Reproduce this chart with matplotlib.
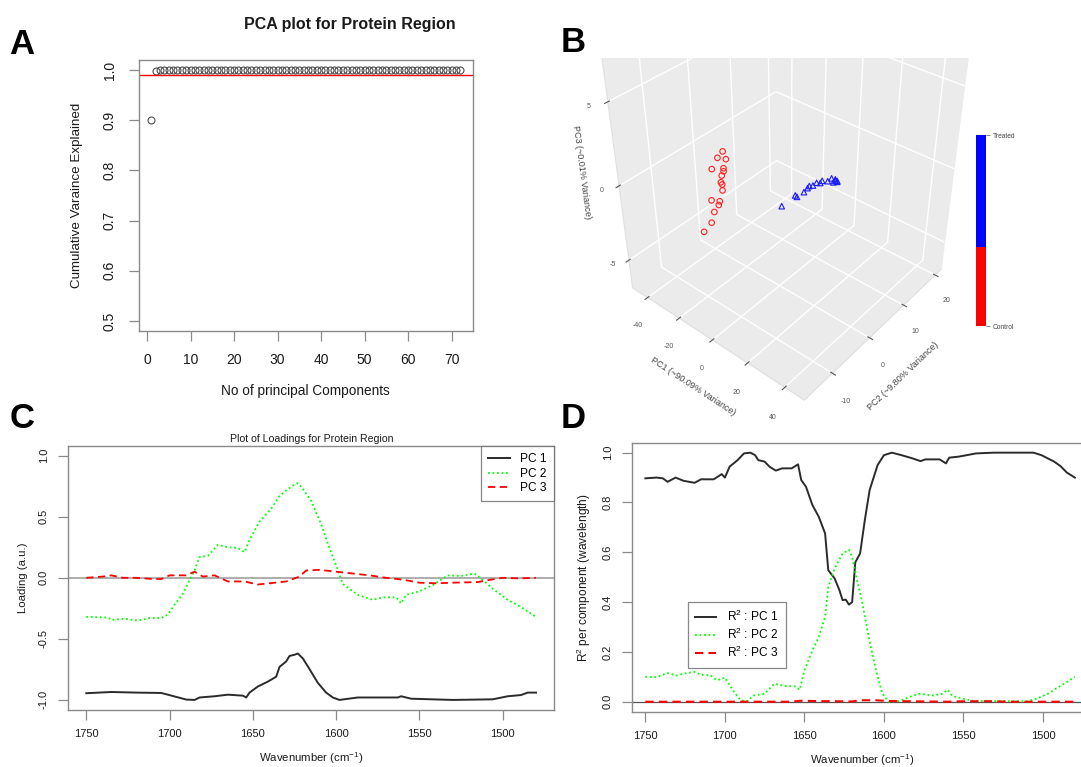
import matplotlib
matplotlib.use("Agg")
import matplotlib.pyplot as plt
from matplotlib.patches import Rectangle

plt.rcParams['font.family'] = ['Liberation Sans', 'DejaVu Sans']
plt.rcParams['mathtext.fontset'] = 'custom'
plt.rcParams['mathtext.rm'] = 'Liberation Sans'
plt.rcParams['mathtext.it'] = 'Liberation Sans:italic'
plt.rcParams['axes.unicode_minus'] = False

# ---- panel A: cumulative variance ----
n_pc = [1, 2, 3, 4, 5, 6, 7, 8, 9, 10, 11, 12, 13, 14, 15, 16, 17, 18,
        19, 20, 21, 22, 23, 24, 25, 26, 27, 28, 29, 30, 31, 32, 33, 34, 35, 36,
        37, 38, 39, 40, 41, 42, 43, 44, 45, 46, 47, 48, 49, 50, 51, 52, 53, 54,
        55, 56, 57, 58, 59, 60, 61, 62, 63, 64, 65, 66, 67, 68, 69, 70, 71, 72]
cum_var = [0.901, 0.999, 1.0, 1.0, 1.0, 1.0, 1.0, 1.0, 1.0, 1.0, 1.0, 1.0, 1.0, 1.0, 1.0, 1.0, 1.0, 1.0,
           1.0, 1.0, 1.0, 1.0, 1.0, 1.0, 1.0, 1.0, 1.0, 1.0, 1.0, 1.0, 1.0, 1.0, 1.0, 1.0, 1.0, 1.0,
           1.0, 1.0, 1.0, 1.0, 1.0, 1.0, 1.0, 1.0, 1.0, 1.0, 1.0, 1.0, 1.0, 1.0, 1.0, 1.0, 1.0, 1.0,
           1.0, 1.0, 1.0, 1.0, 1.0, 1.0, 1.0, 1.0, 1.0, 1.0, 1.0, 1.0, 1.0, 1.0, 1.0, 1.0, 1.0, 1.0]
cutoff = 0.99

# ---- panel B: scores (PC1, PC2, PC3) ----
ctrl_pc1 = [-32, -32, -31, -33, -32, -32, -32, -32, -32, -32, -33, -32, -32, -33, -33, -34]
ctrl_pc2 = [0.0, -1.3, 0.3, -2.4, 0.0, 0.0, -0.5, -0.8, -0.5, -0.5, -2.9, -1.3, -1.6, -2.4, -3.2, -4.8]
ctrl_pc3 = [0.3, 0.1, -0.2, -0.5, -0.8, -1.0, -1.2, -1.6, -1.8, -2.2, -2.5, -2.8, -3.0, -3.4, -4.0, -4.4]
trt_pc1 = [-16, -8, -7, -3, -1, 0, 2, 4, 6, 7, 10, 12, 13, 14, 15, 15, 14]
trt_pc2 = [8, 8, 8, 8, 8, 8, 8, 8, 8, 8, 8, 8, 8, 8, 8, 8, 8]
trt_pc3 = [-3.9, -2.66, -2.7, -2.14, -1.75, -1.55, -1.4, -1.1, -1.0, -0.8, -0.65, -0.35, -0.55, -0.4,
           -0.35, -0.4, -0.3]
key_labels = ['Control', 'Treated']
key_share = [0.415, 0.585]

# ---- panel C: loadings ----
wn_c1 = [1750, 1735, 1720, 1705, 1701, 1690, 1685, 1682, 1673, 1665, 1656, 1654, 1652, 1647,
         1641, 1636, 1634, 1630, 1628, 1625, 1623, 1620, 1617, 1615, 1611, 1606, 1602, 1598,
         1587, 1563, 1561, 1555, 1530, 1506, 1497, 1489, 1485, 1480]
pc1_load = [-0.945, -0.935, -0.94, -0.943, -0.957, -0.997, -1.0, -0.98, -0.97, -0.957, -0.965, -0.98,
            -0.94, -0.89, -0.85, -0.81, -0.73, -0.685, -0.64, -0.63, -0.62, -0.66, -0.725, -0.77,
            -0.86, -0.94, -0.98, -1.0, -0.98, -0.98, -0.97, -0.99, -1.0, -0.995, -0.97, -0.96, -0.94, -0.94]
wn_c2 = [1750, 1737, 1735, 1727, 1719, 1712, 1705, 1701, 1697, 1692, 1688, 1685, 1682, 1677,
         1671, 1665, 1659, 1655, 1652, 1646, 1639, 1634, 1630, 1626, 1623, 1620, 1615, 1609,
         1605, 1600, 1596, 1587, 1578, 1572, 1564, 1561, 1558, 1550, 1542, 1533, 1525, 1517,
         1513, 1506, 1497, 1489, 1480]
pc2_load = [-0.32, -0.325, -0.345, -0.335, -0.35, -0.33, -0.33, -0.30, -0.22, -0.13, -0.02, 0.06,
            0.17, 0.18, 0.27, 0.25, 0.245, 0.21, 0.31, 0.46, 0.565, 0.67, 0.715, 0.755, 0.775,
            0.73, 0.63, 0.44, 0.28, 0.10, -0.05, -0.14, -0.18, -0.16, -0.16, -0.21, -0.14, -0.11,
            -0.06, 0.02, 0.015, 0.035, -0.005, -0.09, -0.18, -0.24, -0.32]
wn_c3 = [1750, 1740, 1735, 1728, 1720, 1710, 1705, 1700, 1690, 1685, 1680, 1673, 1665, 1655,
         1647, 1640, 1630, 1622, 1618, 1610, 1600, 1590, 1580, 1570, 1560, 1550, 1540, 1530,
         1515, 1507, 1500, 1490, 1480]
pc3_load = [0.0, 0.01, 0.02, 0.0, 0.0, -0.01, -0.01, 0.02, 0.02, 0.05, 0.01, 0.02, -0.03, -0.03,
            -0.055, -0.045, -0.03, 0.01, 0.06, 0.065, 0.05, 0.035, 0.02, 0.0, -0.015, -0.04,
            -0.045, -0.04, -0.035, -0.015, 0.0, -0.005, 0.0]

# ---- panel D: R^2 per component ----
wn_d1 = [1750, 1743, 1739, 1736, 1731, 1726, 1719, 1715, 1707, 1702, 1700, 1697, 1692, 1688,
         1684, 1681, 1679, 1675, 1672, 1668, 1664, 1658, 1654, 1652, 1649, 1645, 1641, 1637,
         1635, 1631, 1628, 1626, 1624, 1622, 1620, 1618, 1615, 1612, 1609, 1604, 1600, 1595,
         1589, 1582, 1577, 1574, 1565, 1561, 1559, 1553, 1542, 1531, 1506, 1501, 1493, 1489,
         1485, 1480]
r2_pc1 = [0.897, 0.90, 0.897, 0.883, 0.90, 0.887, 0.879, 0.893, 0.893, 0.914, 0.90, 0.944, 0.97,
          0.997, 1.0, 0.99, 0.97, 0.964, 0.944, 0.928, 0.937, 0.937, 0.953, 0.89, 0.863, 0.79,
          0.743, 0.676, 0.528, 0.495, 0.448, 0.408, 0.41, 0.39, 0.40, 0.56, 0.595, 0.73, 0.85,
          0.95, 0.99, 1.0, 0.99, 0.977, 0.966, 0.973, 0.973, 0.957, 0.98, 0.984, 0.997, 1.0,
          1.0, 0.99, 0.964, 0.946, 0.92, 0.90]
wn_d2 = [1750, 1743, 1736, 1730, 1726, 1719, 1715, 1709, 1705, 1700, 1695, 1690, 1686, 1682,
         1675, 1669, 1662, 1656, 1653, 1650, 1645, 1641, 1637, 1635, 1631, 1626, 1622, 1620,
         1617, 1614, 1610, 1605, 1601, 1597, 1590, 1584, 1578, 1569, 1563, 1560, 1557, 1550,
         1544, 1510, 1504, 1497, 1491, 1485, 1480]
r2_pc2 = [0.10, 0.099, 0.115, 0.105, 0.113, 0.12, 0.108, 0.106, 0.086, 0.097, 0.046, 0.005, 0.003,
          0.025, 0.032, 0.072, 0.063, 0.062, 0.048, 0.126, 0.206, 0.26, 0.34, 0.46, 0.535, 0.595,
          0.61, 0.58, 0.49, 0.41, 0.273, 0.126, 0.032, 0.0, 0.003, 0.019, 0.032, 0.025, 0.032,
          0.048, 0.023, 0.012, 0.003, 0.002, 0.012, 0.032, 0.056, 0.079, 0.10]
wn_d3 = [1750, 1700, 1660, 1652, 1645, 1620, 1615, 1605, 1598, 1560, 1550, 1535, 1520, 1480]
r2_pc3 = [0.0, 0.0, 0.0, 0.004, 0.003, 0.001, 0.006, 0.006, 0.003, 0.0, 0.002, 0.002, 0.0, 0.0]

W, H = 1081, 767
fig = plt.figure(figsize=(W / 100, H / 100), dpi=100)


def box_axes(left, top, right, bottom, **kw):
    return fig.add_axes([left / W, 1 - bottom / H, (right - left) / W, (bottom - top) / H], **kw)


def r_look(ax, size, pad):
    for s in ax.spines.values():
        s.set_color('#8a8a8a')
        s.set_linewidth(1.0)
    ax.tick_params(direction='out', length=7, width=0.9, color='#8a8a8a',
                   labelsize=size, pad=pad, labelcolor='#1a1a1a')
    ax.tick_params(axis='y', labelrotation=90)
    for lab in ax.get_yticklabels():
        lab.set_va('center')


# panel A
axA = box_axes(139, 60, 472.7, 331)
axA.plot(n_pc, cum_var, 'o', mfc='none', mec='#4d4d4d', ms=5, mew=0.8)
axA.axhline(cutoff, color='red', lw=1.0)
axA.set_xlim(-1.84, 74.84)
axA.set_ylim(0.48, 1.02)
axA.set_xticks([0, 10, 20, 30, 40, 50, 60, 70])
axA.set_yticks([0.5, 0.6, 0.7, 0.8, 0.9, 1.0])
r_look(axA, 10, 9)
axA.set_ylabel('Cumulative Varaince Explained', fontsize=9.6, color='#1a1a1a', va='center')
axA.yaxis.set_label_coords(-62 / 333.7, 0.5)
axA.set_xlabel('No of principal Components', fontsize=9.8, color='#1a1a1a', va='center')
axA.xaxis.set_label_coords(0.5, -60 / 271)
fig.text(350 / W, 1 - 25 / H, 'PCA plot for Protein Region', fontsize=11.5, fontweight='bold',
         ha='center', va='center', color='#1a1a1a')

# panel C
axC = box_axes(68.3, 445.9, 554, 709.7)
axC.axhline(0, color='#a0a0a0', lw=1.2)
axC.plot(wn_c1, pc1_load, color='#2b2b2b', lw=1.4, label='PC 1')
axC.plot(wn_c2, pc2_load, color='#00ff00', lw=1.3, ls=(0, (1, 1.5)), label='PC 2')
axC.plot(wn_c3, pc3_load, color='#ff0000', lw=1.3, ls=(0, (4, 2.5)), label='PC 3')
axC.set_xlim(1760.8, 1469.2)
axC.set_ylim(-1.08, 1.08)
axC.set_xticks([1750, 1700, 1650, 1600, 1550, 1500])
axC.set_yticks([-1.0, -0.5, 0.0, 0.5, 1.0])
r_look(axC, 8, 7)
axC.set_ylabel('Loading (a.u.)', fontsize=8.2, color='#1a1a1a', va='center')
axC.yaxis.set_label_coords(-45 / 485.7, 0.5)
axC.set_xlabel('Wavenumber (cm$^{-1}$)', fontsize=8.2, color='#1a1a1a', va='center')
axC.xaxis.set_label_coords(0.5, -48 / 263.8)
fig.text(312 / W, 1 - 439 / H, 'Plot of Loadings for Protein Region', fontsize=7.6,
         ha='center', va='center', color='#1a1a1a')
legC = axC.legend(loc='upper right', borderaxespad=0, fontsize=8.6, frameon=True, fancybox=False,
                  handlelength=1.8, handletextpad=0.9, labelspacing=0.22, borderpad=0.6)
legC.get_frame().set_edgecolor('#6a6a6a')
legC.get_frame().set_linewidth(0.9)

# panel D
axD = box_axes(632.3, 442.7, 1092, 711.7)
axD.plot(wn_d1, r2_pc1, color='#2b2b2b', lw=1.4, label='R$^2$ : PC 1')
axD.plot(wn_d2, r2_pc2, color='#00ff00', lw=1.3, ls=(0, (1, 1.5)), label='R$^2$ : PC 2')
axD.plot(wn_d3, r2_pc3, color='#ff0000', lw=1.5, ls=(0, (4, 2.5)), label='R$^2$ : PC 3')
axD.axhline(0, color='#555555', lw=0.9, zorder=1)
axD.set_xlim(1758.2, 1469.2)
axD.set_ylim(-0.04, 1.04)
axD.set_xticks([1750, 1700, 1650, 1600, 1550, 1500])
axD.set_yticks([0.0, 0.2, 0.4, 0.6, 0.8, 1.0])
r_look(axD, 8, 7)
axD.set_ylabel('R$^2$ per component (wavelength)', fontsize=8.6, color='#1a1a1a', va='center')
axD.yaxis.set_label_coords(-48 / 459.7, 0.5)
axD.set_xlabel('Wavenumber (cm$^{-1}$)', fontsize=8.2, color='#1a1a1a', va='center')
axD.xaxis.set_label_coords(0.5, -48 / 269)
legD = axD.legend(loc='upper left', bbox_to_anchor=(687.7 / W, 1 - 601.7 / H),
                  bbox_transform=fig.transFigure, borderaxespad=0, fontsize=8.6, frameon=True,
                  fancybox=False, handlelength=1.8, handletextpad=0.9, labelspacing=0.25,
                  borderpad=0.6)
legD.get_frame().set_edgecolor('#6a6a6a')
legD.get_frame().set_linewidth(0.9)

# panel B: 3D scores
axB = fig.add_axes([573 / W, 1 - 382 / H, 420 / W, 430 / H], projection='3d')
axB.patch.set_alpha(0)
axB.set_proj_type('persp', focal_length=0.4)
axB.view_init(elev=35, azim=-50)
axB.set_box_aspect((1.15, 1.15, 1.5), zoom=1.07)
axB.scatter(ctrl_pc1, ctrl_pc2, ctrl_pc3, marker='o', facecolors='none', edgecolors='#ff2020',
            s=16, linewidths=0.8, depthshade=False)
axB.scatter(trt_pc1, trt_pc2, trt_pc3, marker='^', facecolors='none', edgecolors='#1a1aff',
            s=16, linewidths=0.8, depthshade=False)
axB.set_xlim(-50, 50)
axB.set_ylim(-17, 22)
axB.set_zlim(-7, 9)
axB.set_xticks([-40, -20, 0, 20, 40])
axB.set_yticks([-10, 0, 10, 20])
axB.set_zticks([-5, 0, 5])
for a in (axB.xaxis, axB.yaxis, axB.zaxis):
    a.set_pane_color((0.92, 0.92, 0.92, 1.0))
    a._axinfo['grid'].update(color='white', linewidth=1.0)
    a.line.set_color('#e0e0e0')
axB.zaxis.set_ticks_position('lower')
axB.zaxis.set_label_position('lower')
axB.tick_params(labelsize=5, colors='#555555')
axB.tick_params(axis='z', pad=0)
axB.set_xlabel('PC1 (~90.09% Variance)', fontsize=6.5, color='#444444', labelpad=0)
axB.set_ylabel('PC2 (~9.80% Variance)', fontsize=6.5, color='#444444', labelpad=2)
axB.set_zlabel('PC3 (~0.01% Variance)', fontsize=6.5, color='#444444', labelpad=-5)

# the 3D box is cut flat at the top in the reference
fig.patches.append(Rectangle((585 / W, 1 - 58 / H), 400 / W, 58 / H, transform=fig.transFigure,
                             facecolor='white', edgecolor='none', zorder=1))

# colour key
axK = box_axes(976, 135, 986, 326)
axK.bar([0], [key_share[0]], bottom=0, width=1, color='#ff0000')
axK.bar([0], [key_share[1]], bottom=key_share[0], width=1, color='#0000ff')
axK.set_xlim(-0.5, 0.5)
axK.set_ylim(0, 1)
axK.set_xticks([])
axK.yaxis.tick_right()
axK.set_yticks([0, 1])
axK.set_yticklabels(key_labels)
axK.tick_params(axis='y', length=3, width=0.5, color='#555555', labelsize=4.8,
                labelcolor='#444444', pad=2)
for s in axK.spines.values():
    s.set_visible(False)

# panel letters
for letter, x, y in [('A', 22, 45), ('B', 573, 42), ('C', 22, 418), ('D', 573, 418)]:
    fig.text(x / W, 1 - y / H, letter, fontsize=25, fontweight='bold', ha='center', va='center',
             zorder=5)

plt.savefig('out.png', dpi=100)
